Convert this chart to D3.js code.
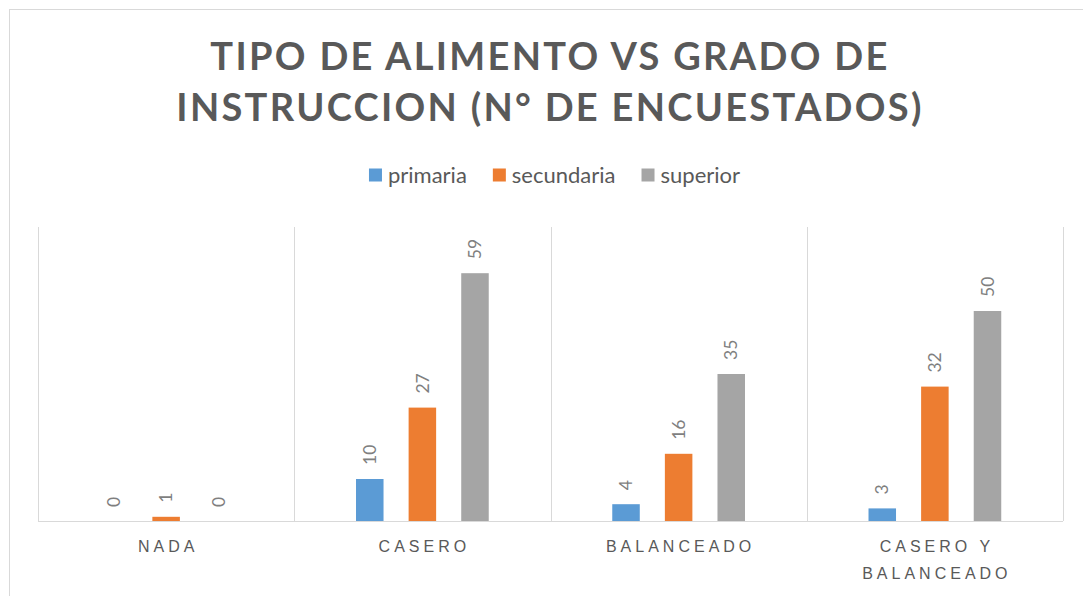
<!DOCTYPE html>
<html>
<head>
<meta charset="utf-8" />
<title>Tipo de alimento vs grado de instruccion</title>
<script src="https://d3js.org/d3.v7.min.js"></script>
<style type="text/css">
	body { margin: 0; background: #ffffff; }
	svg { display: block; font-family: Lato, "Open Sans", sans-serif; }
	.cat text { fill: #595959; font-size: 16px; letter-spacing: 4px; }
	.value { fill: #7f7f7f; font-size: 17.5px; }
	.legend text { fill: #595959; font-size: 22px; }
</style>
</head>
<body>
<div id="chart"></div>
<script>
	const titleLines = ["TIPO DE ALIMENTO VS GRADO DE", "INSTRUCCION (N° DE ENCUESTADOS)"];
	const categories = ["NADA", "CASERO", "BALANCEADO", "CASERO Y BALANCEADO"];
	const series = ["primaria", "secundaria", "superior"];
	const primaria = [0, 10, 4, 3];
	const secundaria = [1, 27, 16, 32];
	const superior = [0, 59, 35, 50];
	const colors = ["#5B9BD5", "#ED7D31", "#A5A5A5"];

	const values = [primaria, secundaria, superior];

	const width = 1083;
	const height = 596;
	const margin = {top: 227, right: 20, bottom: 75, left: 38};

	const svg = d3.select("#chart")
		.append("svg")
		.attr("width", width)
		.attr("height", height);

	// chart area border
	svg.append("rect")
		.attr("x", 9.5)
		.attr("y", 9.5)
		.attr("width", 1100)
		.attr("height", 700)
		.attr("fill", "none")
		.attr("stroke", "#d9d9d9")
		.attr("stroke-width", 1);

	const x0 = d3.scaleBand()
		.domain(categories)
		.range([margin.left, width - margin.right])
		.padding(0);

	const x1 = d3.scaleBand()
		.domain(series)
		.range([0, x0.bandwidth()])
		.paddingInner(0.477)
		.paddingOuter(1.174);

	const y = d3.scaleLinear()
		.domain([0, 70])
		.range([height - margin.bottom, margin.top]);

	// title
	svg.append("text")
		.attr("x", 550)
		.attr("y", 70)
		.attr("text-anchor", "middle")
		.attr("fill", "#595959")
		.style("font-size", "38px")
		.style("font-weight", "bold")
		.style("letter-spacing", "2.3px")
		.selectAll("tspan")
		.data(titleLines)
		.enter()
		.append("tspan")
		.attr("x", 550)
		.attr("dy", (d, i) => i === 0 ? 0 : 51)
		.text(d => d);

	// gridlines at category boundaries
	const bounds = categories.map(c => x0(c)).concat([x0.range()[1]]);
	svg.append("g")
		.selectAll("line")
		.data(bounds)
		.enter()
		.append("line")
		.attr("x1", d => Math.round(d) + 0.5)
		.attr("x2", d => Math.round(d) + 0.5)
		.attr("y1", y(70))
		.attr("y2", y(0))
		.attr("stroke", "#d9d9d9")
		.attr("stroke-width", 1);

	// bars
	const groups = svg.append("g")
		.selectAll("g")
		.data(series)
		.enter()
		.append("g")
		.attr("fill", (d, i) => colors[i]);

	groups.selectAll("rect")
		.data((s, si) => categories.map((c, ci) => ({cat: c, s: s, v: values[si][ci]})))
		.enter()
		.append("rect")
		.attr("x", d => x0(d.cat) + x1(d.s))
		.attr("y", d => y(d.v))
		.attr("width", x1.bandwidth())
		.attr("height", d => y(0) - y(d.v));

	// value labels
	groups.selectAll("text")
		.data((s, si) => categories.map((c, ci) => ({cat: c, s: s, v: values[si][ci]})))
		.enter()
		.append("text")
		.attr("class", "value")
		.attr("transform", d => "translate(" + (x0(d.cat) + x1(d.s) + x1.bandwidth() / 2) + "," + (y(d.v) - 14) + ") rotate(-90)")
		.attr("dy", "0.35em")
		.text(d => d.v);

	// category axis
	const axis = svg.append("g")
		.attr("class", "cat")
		.attr("transform", "translate(0," + y(0) + ")")
		.call(d3.axisBottom(x0).tickSize(0).tickPadding(20));

	axis.select(".domain")
		.attr("stroke", "#d9d9d9")
		.attr("d", "M" + x0.range()[0] + ",0.5H" + x0.range()[1]);

	axis.selectAll(".tick text")
		.attr("font-family", null)
		.attr("font-size", null)
		.each(function(d) {
			const t = d3.select(this);
			const words = d.split(" ");
			t.text(null);
			let lines = [];
			let line = [];
			let tmp = t.append("tspan");
			words.forEach(w => {
				line.push(w);
				tmp.text(line.join(" "));
				if (tmp.node().getComputedTextLength() > 200 && line.length > 1) {
					line.pop();
					lines.push(line.join(" "));
					line = [w];
				}
			});
			lines.push(line.join(" "));
			tmp.remove();
			lines.forEach((l, i) => {
				t.append("tspan")
					.attr("x", 2)
					.attr("dy", i === 0 ? "0.71em" : "27px")
					.text(l);
			});
		});

	// legend
	const legend = svg.append("g").attr("class", "legend");
	let lx = 0;
	series.forEach((s, i) => {
		const item = legend.append("g");
		item.append("rect")
			.attr("x", 0)
			.attr("y", -6.5)
			.attr("width", 13)
			.attr("height", 13)
			.attr("fill", colors[i]);
		const txt = item.append("text")
			.attr("x", 19)
			.attr("y", 0)
			.attr("dy", "0.35em")
			.text(s);
		item.attr("transform", "translate(" + lx + ",0)");
		lx += 19 + txt.node().getComputedTextLength() + 26;
	});
	lx -= 26;
	legend.attr("transform", "translate(" + (554.5 - lx / 2) + ",175)");
</script>
</body>
</html>
